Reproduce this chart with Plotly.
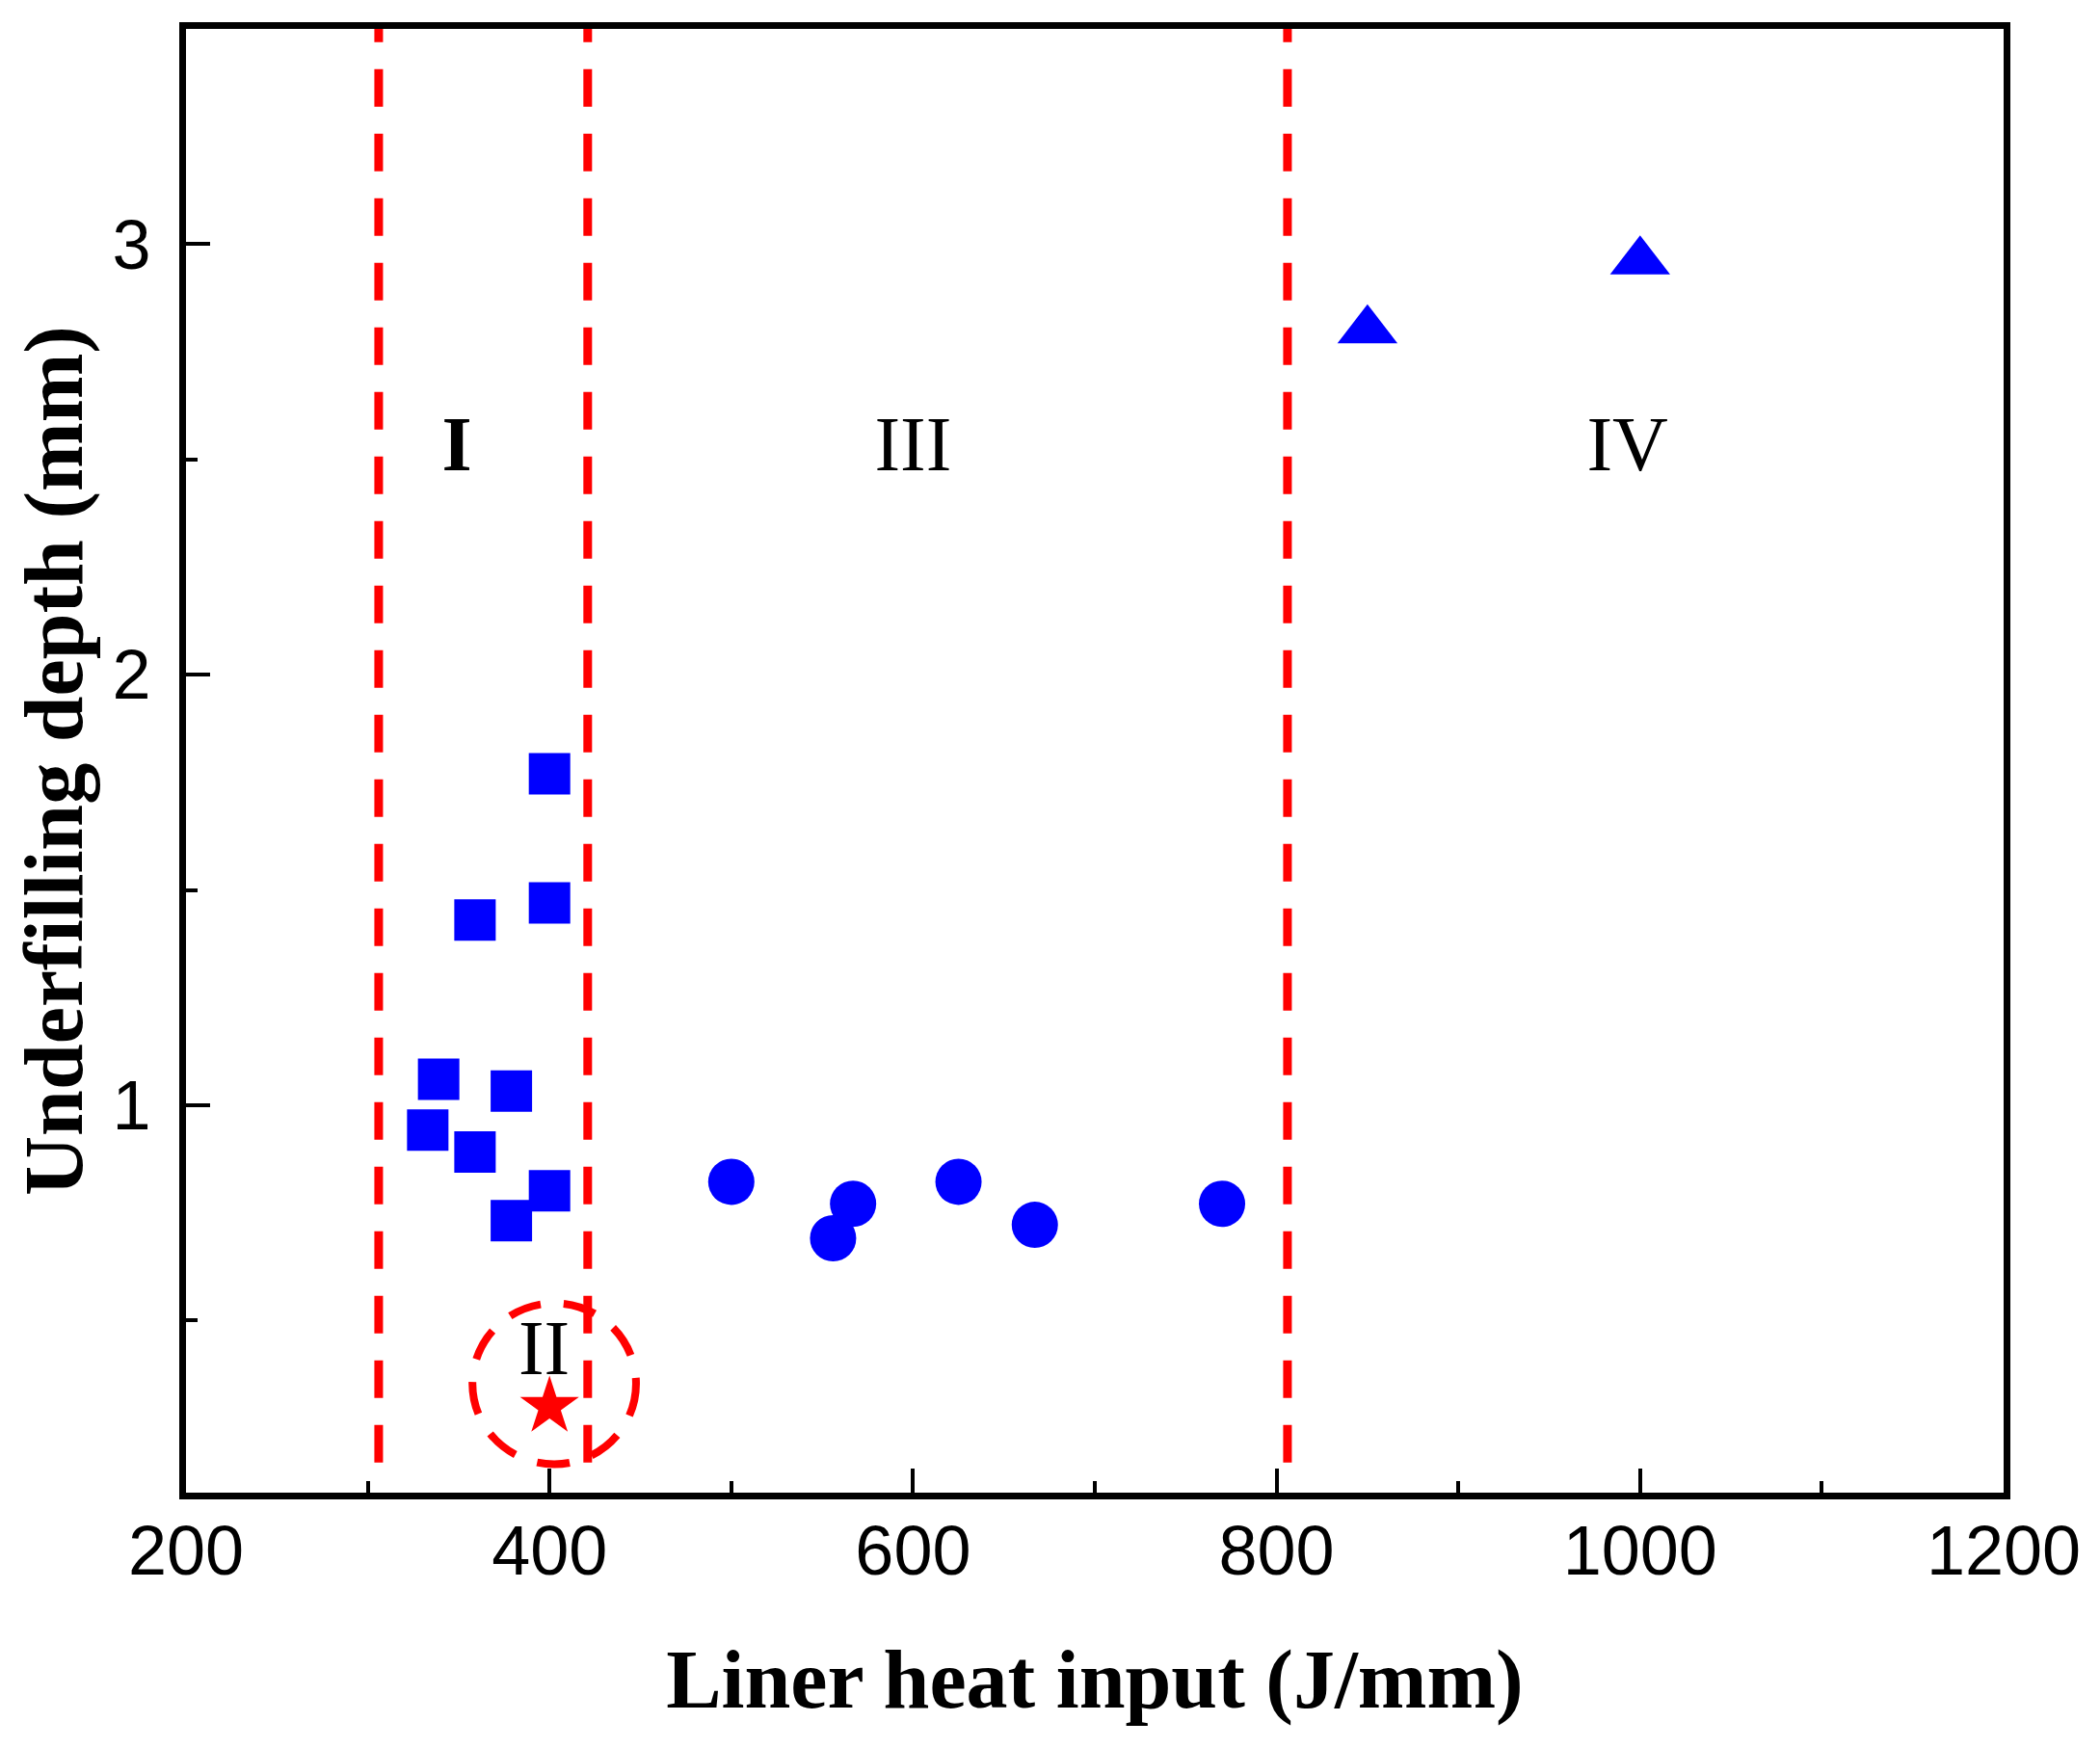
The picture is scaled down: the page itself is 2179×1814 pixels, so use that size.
import plotly.graph_objects as go

# region I: squares
sq_x = [400, 400, 359, 339, 379, 333, 359, 400, 379]
sq_y = [1.77, 1.47, 1.43, 1.06, 1.033, 0.942, 0.891, 0.801, 0.732]

# region III: circles
ci_x = [500, 567, 556, 625, 667, 770]
ci_y = [0.822, 0.771, 0.691, 0.822, 0.722, 0.771]

# region IV: triangles
tr_x = [850, 1000]
tr_y = [2.80, 2.96]

# region II: star
st_x = [400]
st_y = [0.30]

# dashed boundaries between regions
bound_x = [306, 421, 806]

region_text = ["<b>I</b>", "III", "IV", "II"]
region_x = [349, 600, 993, 397]
region_y = [2.52, 2.52, 2.52, 0.42]

BLUE = "#0000FF"
RED = "#FF0000"
SERIF = "Times New Roman, Liberation Serif, serif"
SANS = "Arial, Liberation Sans, sans-serif"

fig = go.Figure()

fig.add_trace(go.Scatter(x=sq_x, y=sq_y, mode="markers",
                         marker=dict(symbol="square", size=43, color=BLUE)))
fig.add_trace(go.Scatter(x=ci_x, y=ci_y, mode="markers",
                         marker=dict(symbol="circle", size=48, color=BLUE)))
fig.add_trace(go.Scatter(x=tr_x, y=tr_y, mode="markers",
                         marker=dict(symbol="triangle-up", size=54, color=BLUE)))
fig.add_trace(go.Scatter(x=st_x, y=st_y, mode="markers",
                         marker=dict(symbol="star", size=46, color=RED)))

fig.add_trace(go.Scatter(x=region_x, y=region_y, mode="text", text=region_text,
                         textfont=dict(family=SERIF, size=80, color="black"),
                         textposition="middle center"))

dash = "39px,28px"
for bx in bound_x:
    fig.add_shape(type="line", xref="x", yref="y", x0=bx, x1=bx, y0=0.17, y1=3.5,
                  line=dict(color=RED, width=9, dash=dash), layer="below")

# dashed ring round the star
fig.add_shape(type="circle", xref="x", yref="y",
              x0=402.6 - 45, x1=402.6 + 45, y0=0.353 - 0.187, y1=0.353 + 0.187,
              line=dict(color=RED, width=8, dash="34px,24px"))

axis_common = dict(
    showgrid=False, zeroline=False, showline=True, linecolor="black", linewidth=7,
    mirror=True, ticks="inside", ticklen=25, tickwidth=4, tickcolor="black",
    tickfont=dict(family=SANS, size=72, color="black"),
)

fig.update_layout(
    width=2179, height=1814,
    paper_bgcolor="white", plot_bgcolor="white",
    showlegend=False,
    margin=dict(l=185, r=108, t=22, b=273),
    xaxis=dict(range=[200, 1200], tick0=200, dtick=200, ticklabelstandoff=-8,
               minor=dict(dtick=100, ticks="inside", ticklen=12, tickwidth=4, tickcolor="black"),
               title=dict(text="<b>Liner heat input (J/mm)</b>", standoff=66,
                          font=dict(family=SERIF, size=86, color="black")),
               **axis_common),
    yaxis=dict(range=[0.1, 3.5], tick0=0, dtick=1, ticklabelstandoff=15,
               minor=dict(dtick=0.5, ticks="inside", ticklen=12, tickwidth=4, tickcolor="black"),
               title=dict(text="<b>Underfilling depth (mm)</b>", standoff=18,
                          font=dict(family=SERIF, size=86, color="black")),
               **axis_common),
)

fig.write_html("out.html")
